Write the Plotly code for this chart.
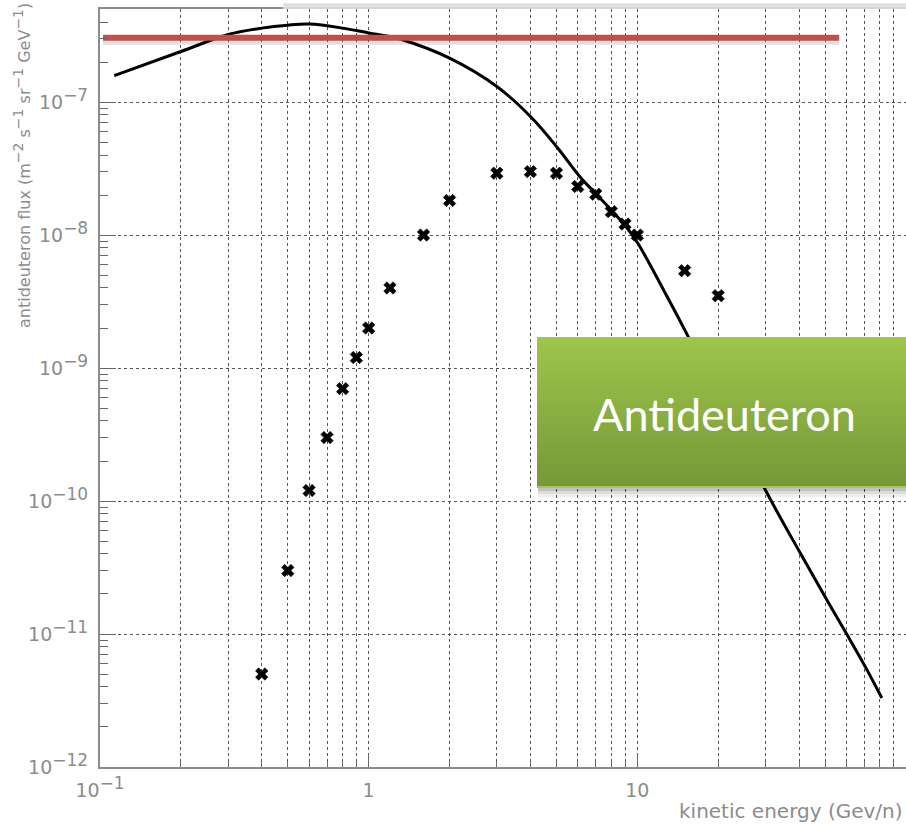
import numpy as np
import plotly.graph_objects as go

# Measured antideuteron flux (points) and model prediction (curve)
meas_energy = [0.4, 0.5, 0.6, 0.7, 0.8, 0.9, 1.0, 1.2, 1.6, 2, 3, 4, 5, 6, 7, 8, 9, 10, 15, 20]
meas_flux = [5e-12, 3e-11, 1.2e-10, 3e-10, 7e-10, 1.2e-9, 2e-9, 4e-9, 1e-8, 1.82e-8,
             2.92e-8, 3.0e-8, 2.92e-8, 2.32e-8, 2.03e-8, 1.5e-8, 1.21e-8, 1e-8, 5.4e-9, 3.5e-9]

model_energy = [0.113, 0.2, 0.3, 0.4, 0.5, 0.6, 0.8, 1.0, 1.2, 1.31, 2.0, 3.0, 4.05,
                5.06, 6.1, 7.07, 8.1, 9.1, 10.07, 12.9, 15.45, 29.9, 40.4, 50.7, 60.3, 71.5, 81.3]
model_flux = [1.58e-7, 2.40e-7, 3.22e-7, 3.60e-7, 3.79e-7, 3.86e-7, 3.60e-7, 3.31e-7, 3.11e-7,
              2.98e-7, 2.14e-7, 1.31e-7, 7.6e-8, 4.5e-8, 2.76e-8, 2.01e-8, 1.5e-8,
              1.15e-8, 8.6e-9, 3.45e-9, 1.73e-9, 1.22e-10, 4.06e-11, 1.81e-11, 9.9e-12,
              5.4e-12, 3.3e-12]

# Horizontal reference level
ref_energy = [0.1026, 56.4]
ref_level = 3.05e-7

box_label = "Antideuteron"

x_decades = [0.1, 1, 10]
x_decade_text = ["10<sup><span style='font-size:17px'>\u22121</span></sup>", "1", "10"]
y_decades = [1e-12, 1e-11, 1e-10, 1e-9, 1e-8, 1e-7]
y_decade_text = ["10<sup><span style='font-size:17px'>\u2212%d</span></sup>" % e
                 for e in (12, 11, 10, 9, 8, 7)]

x_minor = [m * d for d in (0.1, 1, 10) for m in range(2, 10)]
y_minor = [m * d for d in (1e-12, 1e-11, 1e-10, 1e-9, 1e-8, 1e-7) for m in range(2, 10)]

W, H = 906, 825
L, T, R, B = 100, 9, 0, 58
PW, PH = W - L - R, H - T - B

def px(xpix):
    return (xpix - L) / PW

def py(ypix):
    return 1 - (ypix - T) / PH

GRAY = "#8c8c8c"
FONT = "DejaVu Sans"

fig = go.Figure()

# curve
fig.add_trace(go.Scatter(x=model_energy, y=model_flux, mode="lines",
                         line=dict(color="black", width=3, shape="spline", smoothing=1.0),
                         hoverinfo="skip"))
# measured points
fig.add_trace(go.Scatter(x=meas_energy, y=meas_flux, mode="markers",
                         marker=dict(symbol="x", size=11, color="black",
                                     line=dict(width=0.6, color="black"))))
# reference level with soft shadow
fig.add_trace(go.Scatter(x=ref_energy, y=[ref_level * 0.95] * 2, mode="lines",
                         line=dict(color="rgba(0,0,0,0.12)", width=8), hoverinfo="skip"))
fig.add_trace(go.Scatter(x=ref_energy, y=[ref_level] * 2, mode="lines",
                         line=dict(color="#C0504D", width=6), hoverinfo="skip"))

shapes = []
# faint shadow band above the frame
band = ["#d4d4d4", "#dedede", "#e8e8e8", "#f2f2f2"]
for i, c in enumerate(band):
    shapes.append(dict(type="rect", xref="paper", yref="paper", layer="above",
                       x0=px(283), x1=px(906), y0=py(3.5 + 1.3 * (i + 1)), y1=py(3.5 + 1.3 * i),
                       fillcolor=c, line=dict(width=0)))

# green label box: drop shadow, then vertical gradient
bx0, bx1, by0, by1 = 537, 910, 337, 488
for k, a in zip((9, 6, 3), (0.06, 0.08, 0.12)):
    shapes.append(dict(type="rect", xref="paper", yref="paper", layer="above",
                       x0=px(bx0 + 1), x1=px(bx1), y0=py(by1 + k), y1=py(by0 + 2),
                       fillcolor="rgba(0,0,0,%.2f)" % a, line=dict(width=0)))
top_c = np.array([158, 198, 76])
bot_c = np.array([118, 152, 56])
n = 40
for i in range(n):
    t = i / (n - 1)
    c = top_c + (bot_c - top_c) * t
    y0p = by0 + (by1 - by0) * i / n
    y1p = by0 + (by1 - by0) * (i + 1) / n
    y1p = min(y1p + 1.5, by1)
    shapes.append(dict(type="rect", xref="paper", yref="paper", layer="above",
                       x0=px(bx0), x1=px(bx1), y0=py(y1p), y1=py(y0p),
                       fillcolor="rgb(%d,%d,%d)" % tuple(c.astype(int)), line=dict(width=0)))
shapes.append(dict(type="line", xref="paper", yref="paper", layer="above",
                   x0=px(bx0), x1=px(bx1), y0=py(by1 - 1), y1=py(by1 - 1),
                   line=dict(color="#a4c95a", width=2)))

annotations = [
    dict(text=box_label, x=px(724), y=py(414), xref="paper", yref="paper",
         showarrow=False, xanchor="center", yanchor="middle",
         font=dict(family="Lato", size=45, color="white")),
    dict(text="antideuteron flux (m<sup><span style='font-size:14px'>\u22122</span></sup> "
              "s<sup><span style='font-size:14px'>\u22121</span></sup> "
              "sr<sup><span style='font-size:14px'>\u22121</span></sup> "
              "GeV<sup><span style='font-size:14px'>\u22121</span></sup>)",
         x=px(22), y=py(166), xref="paper", yref="paper", showarrow=False,
         textangle=-90, xanchor="center", yanchor="middle",
         font=dict(family=FONT, size=16, color=GRAY)),
    dict(text="kinetic energy (Gev/n)", x=px(905), y=py(811), xref="paper", yref="paper",
         showarrow=False, xanchor="right", yanchor="middle",
         font=dict(family=FONT, size=20, color=GRAY)),
]

fig.update_layout(
    width=W, height=H,
    margin=dict(l=L, r=R, t=T, b=B, pad=0),
    paper_bgcolor="white", plot_bgcolor="white",
    showlegend=False,
    shapes=shapes, annotations=annotations,
)

fig.update_xaxes(
    type="log", range=[-1, 2.0], showline=True, linecolor=GRAY, linewidth=2, mirror=True,
    tickmode="array", tickvals=x_decades, ticktext=x_decade_text,
    ticks="inside", ticklen=13, tickcolor="#666", tickwidth=1,
    showgrid=True, gridcolor="#555", gridwidth=1, griddash="dot",
    tickfont=dict(family=FONT, size=19, color=GRAY), ticklabelstandoff=5,
    minor=dict(tickmode="array", tickvals=x_minor, ticks="inside", ticklen=6,
               tickcolor="#666", showgrid=True, gridcolor="#555", gridwidth=1, griddash="dot"),
    zeroline=False,
)
fig.update_yaxes(
    type="log", range=[-12, -6.3], showline=True, linecolor=GRAY, linewidth=2,
    tickmode="array", tickvals=y_decades, ticktext=y_decade_text,
    ticks="inside", ticklen=16, tickcolor="#666", tickwidth=1,
    showgrid=True, gridcolor="#555", gridwidth=1, griddash="dot",
    tickfont=dict(family=FONT, size=19, color=GRAY), ticklabelstandoff=6,
    minor=dict(tickmode="array", tickvals=y_minor, ticks="inside", ticklen=8,
               tickcolor="#666", showgrid=False),
    zeroline=False,
)

fig.write_html("out.html")
